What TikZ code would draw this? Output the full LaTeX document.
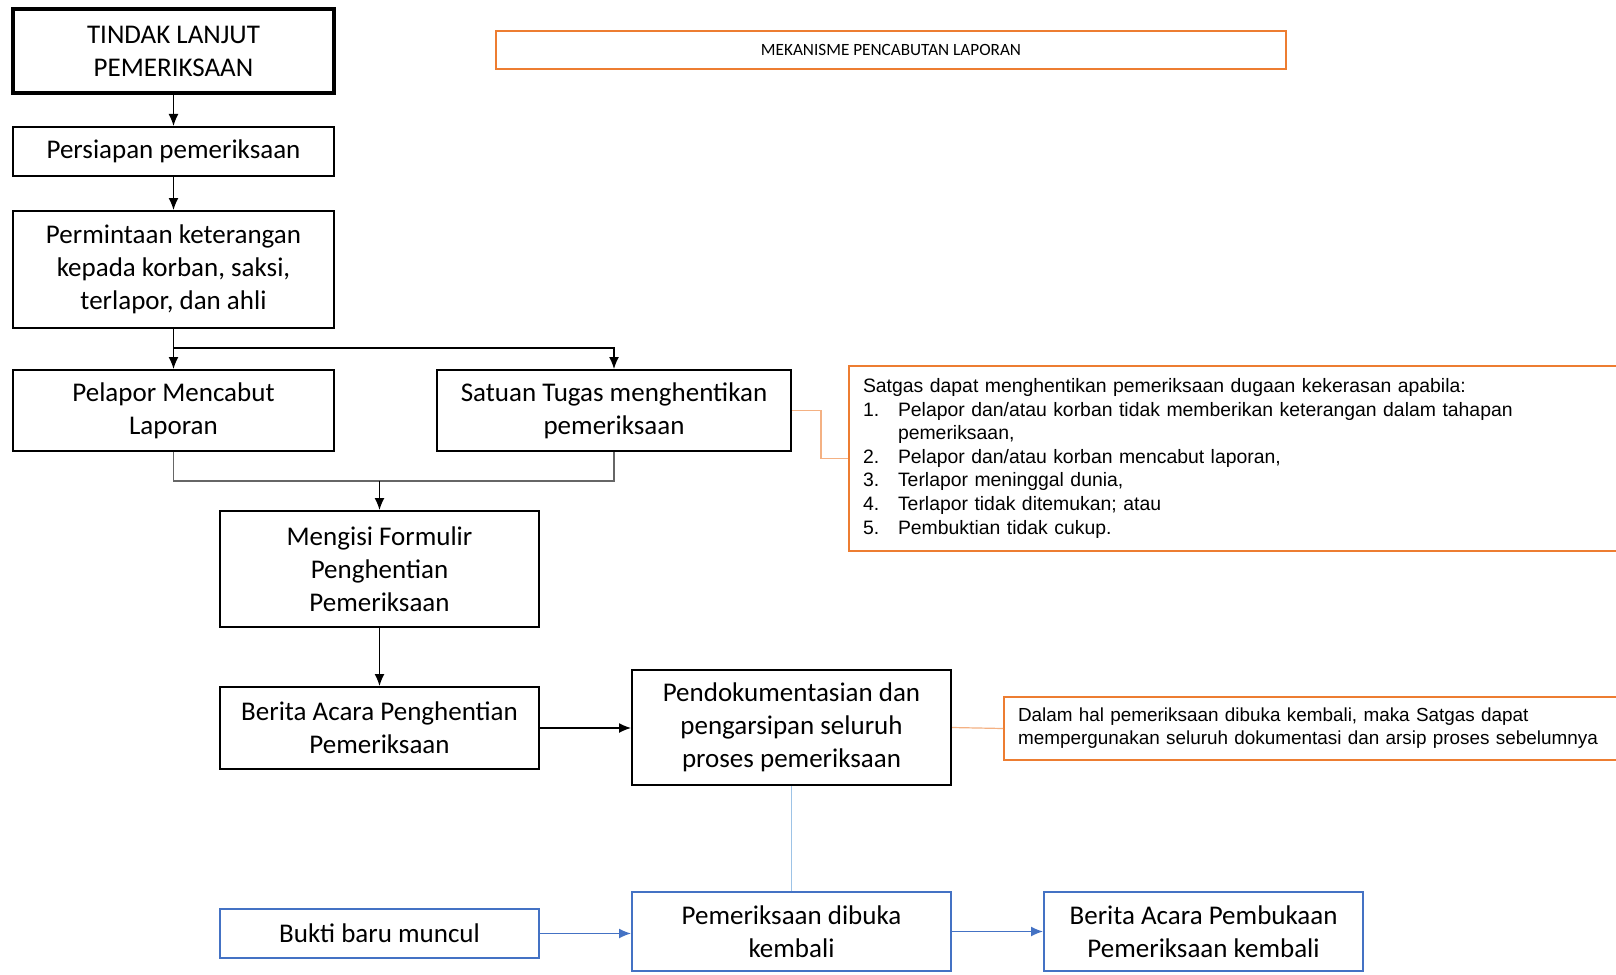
\documentclass[tikz,border=0pt]{standalone}
\usepackage{fontspec}
\setmainfont{Carlito}
\newfontfamily\arialfont{Liberation Sans}
\usetikzlibrary{arrows.meta}
\definecolor{oranye}{HTML}{ED7D31}
\definecolor{oranyemuda}{HTML}{F4B183}
\definecolor{biru}{HTML}{4472C4}
\definecolor{birumuda}{HTML}{9DC3E6}

\begin{document}
\begin{tikzpicture}[
        x=0.5pt, y=-0.5pt,
        kotak/.style={draw, line width=1pt, align=center, inner sep=0pt,
            font={\fontsize{13.5}{16.5}\selectfont}},
        kotakbiru/.style={kotak, draw=biru},
        keterangan/.style={draw=oranye, line width=1pt, anchor=west, align=left,
            inner xsep=7pt, inner ysep=4pt,
            font={\arialfont\fontsize{9.7}{11.8}\selectfont}},
        panah/.style={-{Latex[length=6pt,width=5pt]}, line width=0.7pt},
        panahbiru/.style={panah, draw=biru, fill=biru},
    ]
            \useasboundingbox
                (0,0) rectangle (1616,974)
            ;
            \clip
                (0,0) rectangle (1616,974)
            ;
            \fill[white]
                (0,0) rectangle (1616,974)
            ;

            \node[kotak, line width=2pt, minimum width=160.5pt, minimum height=42pt]
                (tindak) at (173.5,51) {TINDAK LANJUT\\PEMERIKSAAN};
            \node[kotak, minimum width=160.5pt, minimum height=24.5pt]
                (persiapan) at (173.5,151.5) {Persiapan pemeriksaan};
            \node[kotak, minimum width=160.5pt, minimum height=58.5pt]
                (permintaan) at (173.5,269.5) {Permintaan keterangan\\kepada korban, saksi,\\terlapor, dan ahli};
            \node[kotak, minimum width=160.5pt, minimum height=40.5pt]
                (pelapor) at (173.5,410.5) {Pelapor Mencabut\\Laporan};
            \node[kotak, minimum width=177pt, minimum height=40.5pt]
                (satuan) at (614,410.5) {Satuan Tugas menghentikan\\pemeriksaan};
            \node[kotak, minimum width=159.5pt, minimum height=58pt]
                (mengisi) at (379.5,569) {Mengisi Formulir\\Penghentian\\Pemeriksaan};
            \node[kotak, minimum width=159.5pt, minimum height=41pt]
                (bapenghentian) at (379.5,728) {Berita Acara Penghentian\\Pemeriksaan};
            \node[kotak, minimum width=159.5pt, minimum height=57.5pt]
                (dokumentasi) at (791.5,727.5) {Pendokumentasian dan\\pengarsipan seluruh\\proses pemeriksaan};
            \node[kotakbiru, minimum width=159.5pt, minimum height=24.5pt]
                (bukti) at (379.5,933.5) {Bukti baru muncul};
            \node[kotakbiru, minimum width=159.5pt, minimum height=39.5pt]
                (dibuka) at (791.5,931.5) {Pemeriksaan dibuka\\kembali};
            \node[kotakbiru, minimum width=159.5pt, minimum height=39.5pt]
                (bapembukaan) at (1203.5,931.5) {Berita Acara Pembukaan\\Pemeriksaan kembali};

            \node[draw=oranye, line width=1pt, minimum width=395pt, minimum height=19pt,
                font={\fontsize{8.6}{10}\selectfont}]
                (judul) at (891,50) {MEKANISME PENCABUTAN LAPORAN};
            \node[keterangan, text width=412pt, minimum height=92.5pt]
                (syarat) at (848,458.5) {%
                \begin{tabular}{@{}p{17.5pt}@{}l@{}}
                    \multicolumn{2}{@{}l@{}}{Satgas dapat menghentikan pemeriksaan dugaan kekerasan apabila:}\\
                    1. & Pelapor dan/atau korban tidak memberikan keterangan dalam tahapan\\
                       & pemeriksaan,\\
                    2. & Pelapor dan/atau korban mencabut laporan,\\
                    3. & Terlapor meninggal dunia,\\
                    4. & Terlapor tidak ditemukan; atau\\
                    5. & Pembuktian tidak cukup.
                \end{tabular}};
            \node[keterangan, text width=334.5pt, minimum height=31.5pt,
                font={\arialfont\fontsize{9.45}{11.6}\selectfont}]
                (catatan) at (1003,728.5) {Dalam hal pemeriksaan dibuka kembali, maka Satgas dapat\\mempergunakan seluruh dokumentasi dan arsip proses sebelumnya};

            \coordinate (cabang) at (173.5,348);
            \coordinate (gabung) at (379.5,481);

            \draw[panah] (tindak) -- (persiapan);
            \draw[panah] (persiapan) -- (permintaan);
            \draw[panah] (permintaan) -- (pelapor);
            \draw[panah] (cabang) -| (satuan.north);
            \draw[black!60, line width=0.6pt]
                (pelapor.south) |- (gabung) -| (satuan.south);
            \draw[panah] (gabung) -- (mengisi);
            \draw[panah] (mengisi) -- (bapenghentian);
            \draw[panah] (bapenghentian.east) -- (bapenghentian.east -| dokumentasi.west);
            \draw[birumuda, line width=0.6pt] (dokumentasi) -- (dibuka);
            \draw[panahbiru] (bukti.east) -- (bukti.east -| dibuka.west);
            \draw[panahbiru] (dibuka) -- (bapembukaan);
            \draw[oranyemuda, line width=0.6pt]
                (satuan.east) -- ++(29,0) |- (syarat.west);
            \draw[oranyemuda, line width=0.6pt]
                (dokumentasi.east) -- (catatan.west);
        \end{tikzpicture}
\end{document}
